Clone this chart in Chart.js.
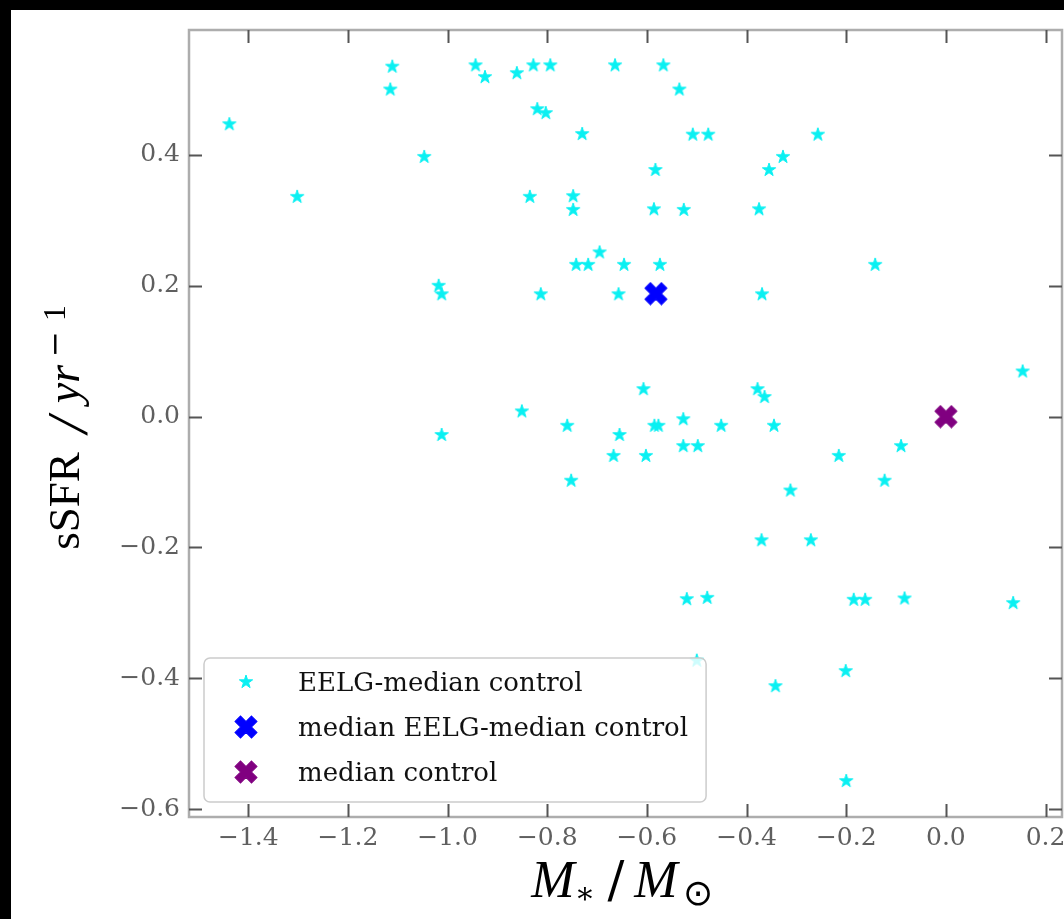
<!DOCTYPE html>
<html>
<head>
<meta charset="utf-8">
<title>sSFR vs stellar mass offsets</title>
<script src="https://cdn.jsdelivr.net/npm/chart.js@4.4.0/dist/chart.umd.min.js"></script>
<style>
  html, body { margin: 0; padding: 0; background: #000; width: 1064px; height: 919px; overflow: hidden; }
  #wrap { position: absolute; left: 11px; top: 10px; width: 1053px; height: 909px; background: #fff; }
</style>
</head>
<body>
<div id="wrap"><canvas id="chart"></canvas></div>
<script>
// EELG minus median-control offsets: stellar mass (x) and specific SFR (y)
const massOffset = [
  -1.438, -1.111, -1.115, -1.302, -1.047, -0.944, -0.925, -0.861, -0.828, -0.794,
  -0.664, -0.567, -0.535, -0.820, -0.803, -0.730, -0.508, -0.477, -0.257, -0.583,
  -0.327, -0.355, -0.835, -0.748, -0.748, -0.586, -0.526, -0.375, -0.695, -0.742,
  -0.718, -0.646, -0.574, -0.142, -1.018, -1.012, -0.813, -0.657, -0.369, -0.607,
  -0.851, -0.378, -0.364, 0.154, -1.012, -0.760, -0.655, -0.585, -0.577, -0.527,
  -0.451, -0.345, -0.667, -0.602, -0.527, -0.498, -0.752, -0.215, -0.090, -0.123,
  -0.312, -0.370, -0.271, -0.520, -0.479, -0.185, -0.162, -0.083, 0.135, -0.500,
  -0.201, -0.342, -0.200
];
const ssfrOffset = [
  0.447, 0.535, 0.500, 0.336, 0.397, 0.537, 0.519, 0.525, 0.537, 0.537,
  0.537, 0.537, 0.500, 0.470, 0.464, 0.432, 0.431, 0.431, 0.431, 0.377,
  0.397, 0.377, 0.336, 0.337, 0.316, 0.317, 0.316, 0.317, 0.251, 0.232,
  0.232, 0.232, 0.232, 0.232, 0.200, 0.187, 0.187, 0.187, 0.187, 0.042,
  0.008, 0.042, 0.030, 0.069, -0.028, -0.014, -0.028, -0.014, -0.014, -0.004,
  -0.014, -0.014, -0.060, -0.060, -0.045, -0.045, -0.098, -0.060, -0.045, -0.098,
  -0.113, -0.189, -0.189, -0.279, -0.277, -0.280, -0.280, -0.278, -0.285, -0.373,
  -0.389, -0.412, -0.557
];

// Medians
const medianEelgMass = [-0.582];
const medianEelgSsfr = [0.188];
const medianControlMass = [0.0];
const medianControlSsfr = [0.0];

// Axes
const xTickValues = [-1.4, -1.2, -1.0, -0.8, -0.6, -0.4, -0.2, 0.0, 0.2];
const yTickValues = [-0.6, -0.4, -0.2, 0.0, 0.2, 0.4];
const xRange = [-1.519, 0.233];
const yRange = [-0.612, 0.591];

const seriesLabels = ['EELG-median control', 'median EELG-median control', 'median control'];
const seriesColors = ['#0af0f2', '#0000ff', '#800080'];

// ---- marker images ----
function starMarker(color, R) {
  const s = Math.ceil(2 * R + 2);
  const c = document.createElement('canvas');
  c.width = s; c.height = s;
  const g = c.getContext('2d');
  const cx = s / 2, cy = s / 2, r = R * 0.382;
  g.beginPath();
  for (let i = 0; i < 10; i++) {
    const a = -Math.PI / 2 + i * Math.PI / 5;
    const rad = i % 2 ? r : R;
    g.lineTo(cx + rad * Math.cos(a), cy + rad * Math.sin(a));
  }
  g.closePath();
  g.fillStyle = color; g.fill();
  g.lineWidth = 1; g.strokeStyle = color; g.stroke();
  return c;
}
function crossMarker(color, size) {
  const s = Math.ceil(size) + 2;
  const c = document.createElement('canvas');
  c.width = s; c.height = s;
  const g = c.getContext('2d');
  g.translate(s / 2, s / 2);
  g.rotate(Math.PI / 4);
  const u = size / 5.66;
  const pts = [[-1,-3],[1,-3],[1,-1],[3,-1],[3,1],[1,1],[1,3],[-1,3],[-1,1],[-3,1],[-3,-1],[-1,-1]];
  g.beginPath();
  pts.forEach(([px, py], i) => i ? g.lineTo(px * u, py * u) : g.moveTo(px * u, py * u));
  g.closePath();
  g.fillStyle = color; g.fill();
  g.lineWidth = 1; g.strokeStyle = color; g.stroke();
  return c;
}
const starImg = starMarker(seriesColors[0], 7);
const blueX = crossMarker(seriesColors[1], 22);
const purpleX = crossMarker(seriesColors[2], 22);

const toPoints = (xs, ys) => xs.map((x, i) => ({ x: x, y: ys[i] }));
const fmtTick = v => (Math.abs(v) < 1e-9 ? '0.0' : v.toFixed(1)).replace('-', '\u2212');
const noPadding = s => { s.paddingLeft = 0; s.paddingRight = 0; s.paddingTop = 0; s.paddingBottom = 0; };

// ---- frame, inward ticks, legend and axis titles ----
const decorations = {
  id: 'decorations',
  afterDatasetsDraw(chart) {
    const { ctx, chartArea: ca } = chart;
    const xs = chart.scales.x, ys = chart.scales.y;
    ctx.save();
    // frame
    ctx.strokeStyle = '#adadad';
    ctx.lineWidth = 2.5;
    ctx.strokeRect(ca.left, ca.top, ca.right - ca.left, ca.bottom - ca.top);
    // inward ticks on all four sides
    const tl = 13;
    ctx.strokeStyle = '#555';
    ctx.lineWidth = 2;
    ctx.beginPath();
    xs.ticks.forEach(t => {
      const p = Math.round(xs.getPixelForValue(t.value)) + 0.5;
      ctx.moveTo(p, ca.bottom); ctx.lineTo(p, ca.bottom - tl);
      ctx.moveTo(p, ca.top); ctx.lineTo(p, ca.top + tl);
    });
    ys.ticks.forEach(t => {
      const p = Math.round(ys.getPixelForValue(t.value)) + 0.5;
      ctx.moveTo(ca.left, p); ctx.lineTo(ca.left + tl, p);
      ctx.moveTo(ca.right, p); ctx.lineTo(ca.right - tl, p);
    });
    ctx.stroke();

    // legend (lower left, semi-transparent box)
    ctx.font = '26px "DejaVu Serif"';
    const items = chart.data.datasets.map(d => ({ label: d.label, img: d.pointStyle }));
    const textW = Math.max(...items.map(it => ctx.measureText(it.label).width));
    const lx = ca.left + 15, lh = 144, ly = ca.bottom - 15 - lh;
    const lw = 94 + textW + 18;
    ctx.beginPath();
    ctx.roundRect(lx, ly, lw, lh, 6);
    ctx.fillStyle = 'rgba(255,255,255,0.8)';
    ctx.fill();
    ctx.strokeStyle = '#cccccc';
    ctx.lineWidth = 1.5;
    ctx.stroke();
    items.forEach((it, i) => {
      const ry = ly + 24 + i * 45;
      const mx = lx + 42;
      ctx.drawImage(it.img, Math.round(mx - it.img.width / 2), Math.round(ry - it.img.height / 2));
      ctx.fillStyle = '#111';
      ctx.textAlign = 'left';
      ctx.textBaseline = 'alphabetic';
      ctx.fillText(it.label, lx + 94, ry + 8.5);
    });
    ctx.restore();
  },
  afterDraw(chart) {
    const { ctx, chartArea: ca } = chart;
    ctx.save();
    ctx.fillStyle = '#000';
    const runs = (list, ox, oy) => list.forEach(r => {
      ctx.font = r.font;
      ctx.textAlign = 'center';
      ctx.textBaseline = r.base || 'alphabetic';
      ctx.fillText(r.text, ox + r.c, oy + r.v);
    });
    // x title: M_* / M_sun
    const xo = ca.left + 338, xb = ca.bottom + 80;
    runs([
      { text: 'M', font: 'italic 52px "Liberation Serif"', c: 26, v: 0 },
      { text: '\u2217', font: '30px "DejaVu Serif"', c: 58, v: -1.5, base: 'middle' },
      { text: '/', font: '50px "DejaVu Serif"', c: 89, v: 0 },
      { text: 'M', font: 'italic 52px "Liberation Serif"', c: 129, v: 0 },
      { text: '\u2299', font: '36px "DejaVu Sans"', c: 171, v: -1.5, base: 'middle' }
    ], xo, xb);
    // y title: sSFR / yr^-1 (rotated)
    ctx.translate(68, ca.bottom - 316);
    ctx.rotate(-Math.PI / 2);
    runs([
      { text: 'sSFR', font: '45px "Liberation Serif"', c: 0, v: 0 },
      { text: '/', font: 'italic 58px "Liberation Serif"', c: 76, v: 8 },
      { text: 'yr', font: 'italic 46px "Liberation Serif"', c: 117, v: 0 },
      { text: '\u2212', font: '31px "DejaVu Serif"', c: 157, v: -14 },
      { text: '1', font: '32px "Liberation Serif"', c: 188, v: -14 }
    ], 0, 0);
    ctx.restore();
  }
};

new Chart(document.getElementById('chart'), {
  type: 'scatter',
  data: {
    datasets: [
      { label: seriesLabels[0], data: toPoints(massOffset, ssfrOffset),
        pointStyle: starImg, pointRadius: 7, pointHoverRadius: 7 },
      { label: seriesLabels[1], data: toPoints(medianEelgMass, medianEelgSsfr),
        pointStyle: blueX, pointRadius: 11, pointHoverRadius: 11 },
      { label: seriesLabels[2], data: toPoints(medianControlMass, medianControlSsfr),
        pointStyle: purpleX, pointRadius: 11, pointHoverRadius: 11 }
    ]
  },
  options: {
    responsive: true,
    maintainAspectRatio: false,
    animation: false,
    events: [],
    layout: { autoPadding: false, padding: { top: 20, right: 2, left: 0, bottom: 0 } },
    plugins: { legend: { display: false }, tooltip: { enabled: false } },
    scales: {
      x: {
        type: 'linear', min: xRange[0], max: xRange[1],
        afterBuildTicks: s => { s.ticks = xTickValues.map(v => ({ value: v })); },
        afterFit: s => { s.height = 102; noPadding(s); },
        grid: { display: false, drawTicks: false },
        border: { display: false },
        ticks: { padding: 6, color: '#5f5f5f', maxRotation: 0,
                 font: { family: 'DejaVu Serif', size: 25 }, callback: v => fmtTick(v) }
      },
      y: {
        type: 'linear', min: yRange[0], max: yRange[1],
        afterBuildTicks: s => { s.ticks = yTickValues.map(v => ({ value: v })); },
        afterFit: s => { s.width = 178; noPadding(s); },
        grid: { display: false, drawTicks: false },
        border: { display: false },
        ticks: { padding: 9, color: '#5f5f5f',
                 font: { family: 'DejaVu Serif', size: 25 }, callback: v => fmtTick(v) }
      }
    }
  },
  plugins: [decorations]
});
</script>
</body>
</html>
